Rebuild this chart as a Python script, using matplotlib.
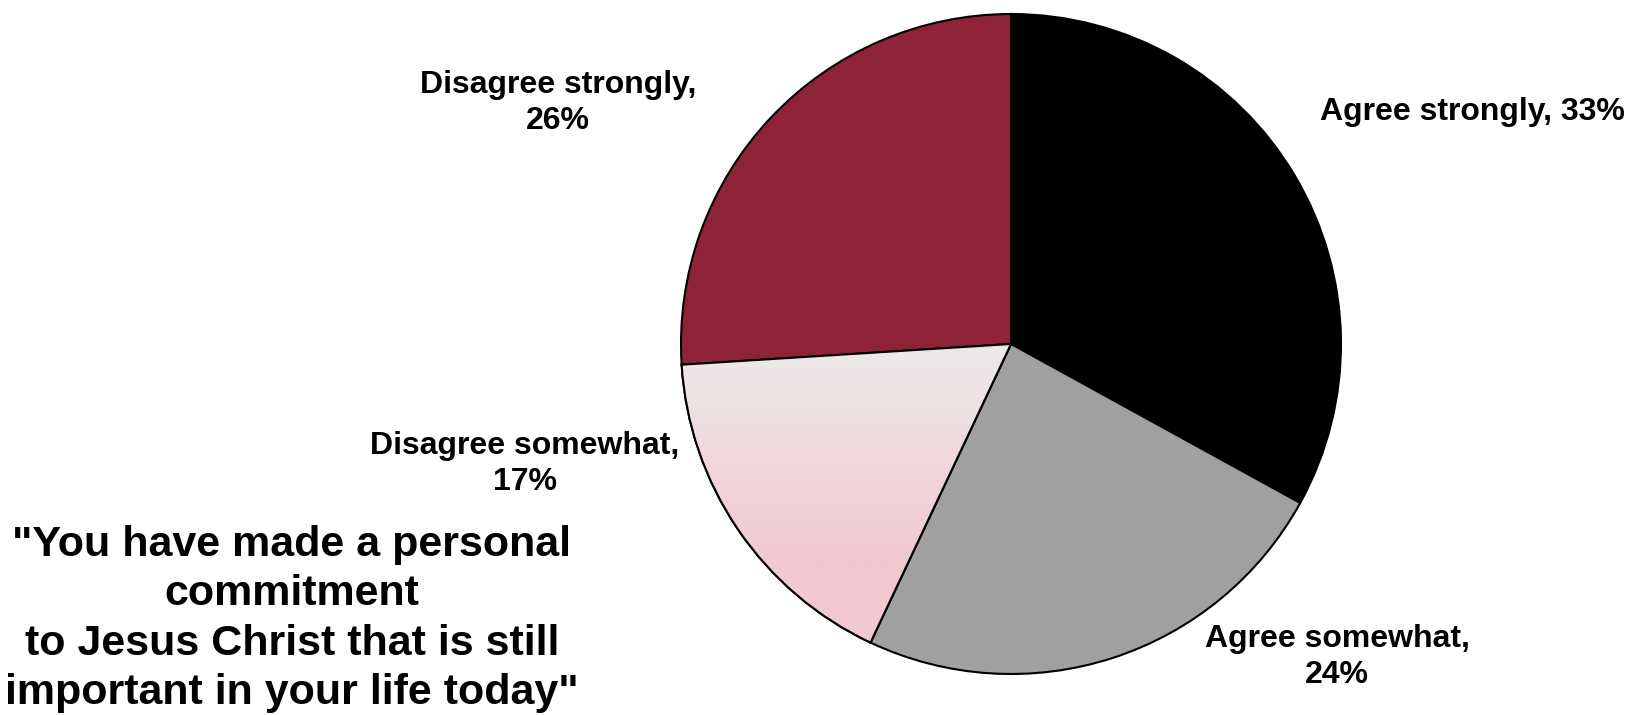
import numpy as np
import matplotlib.pyplot as plt
from matplotlib.colors import LinearSegmentedColormap
from matplotlib.patches import Wedge

# data
labels = ['Agree strongly', 'Agree somewhat', 'Disagree somewhat', 'Disagree strongly']
values = [33, 24, 17, 26]
colors = ['#000000', '#A0A0A0', '#EDEAEA', '#8E2338']
title = '"You have made a personal\ncommitment\nto Jesus Christ that is still\nimportant in your life today"'

plt.rcParams['font.family'] = ['Liberation Sans', 'DejaVu Sans']

W, H = 1629, 715
fig = plt.figure(figsize=(W / 100, H / 100), dpi=100)
ax = fig.add_axes([0, 0, 1, 1])

cx, cy, r = 1011, H - 344, 330
wedges, _ = ax.pie(values, colors=colors, startangle=90, counterclock=False,
                   center=(cx, cy), radius=r, frame=True,
                   wedgeprops=dict(edgecolor='black', linewidth=1.5))

# gradient fill for the "Disagree somewhat" slice
cmap = LinearSegmentedColormap.from_list('g', ['#EDEAEA', '#F2C8D1'])
grad = np.clip(np.linspace(0, 1, 256).reshape(-1, 1) * 1.5, 0, 1)
img = ax.imshow(grad, cmap=cmap, extent=(cx - r, cx, cy, cy - r), origin='lower',
                aspect='auto', zorder=wedges[2].get_zorder() + 0.1)
img.set_clip_path(wedges[2])
w = wedges[2]
ax.add_patch(Wedge((cx, cy), r, w.theta1, w.theta2, facecolor='none',
                   edgecolor='black', linewidth=1.5, zorder=img.get_zorder() + 0.1))

ax.set_xlim(0, W)
ax.set_ylim(0, H)
ax.set_aspect('equal')
ax.axis('off')

# labels
txt = [f'{labels[0]}, {values[0]}%',
       f'{labels[1]},\n{values[1]}%',
       f'{labels[2]},\n{values[2]}%',
       f'{labels[3]},\n{values[3]}%']
pos = [(1472, 112), (1337, 657), (525, 464), (558, 103)]
for t, (x, y) in zip(txt, pos):
    ax.text(x, H - y, t, ha='center', va='center', fontsize=23, fontweight='bold',
            linespacing=1.3)

ax.text(292, H - 619, title, ha='center', va='center', fontsize=31, fontweight='bold',
        linespacing=1.3)

fig.savefig('out.png', dpi=100)
